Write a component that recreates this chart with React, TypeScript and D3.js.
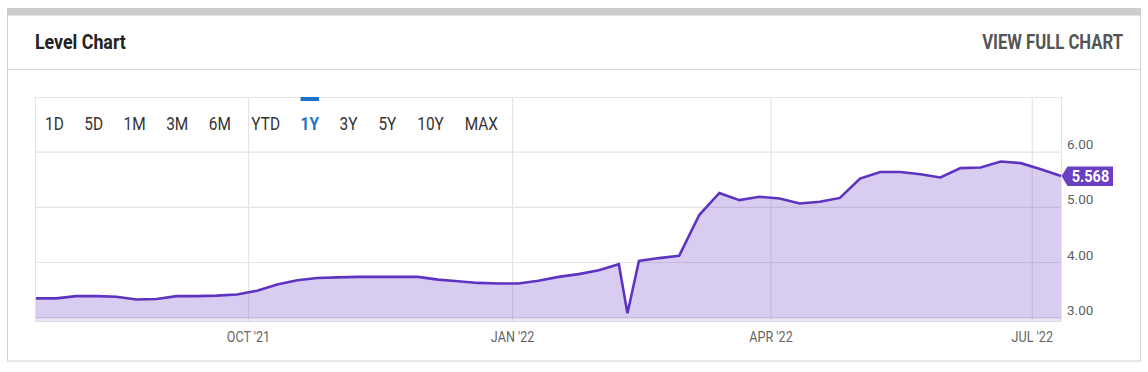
import React, { useRef, useEffect } from 'react'
import { scaleLinear, scaleTime, area, line, curveLinear, select } from 'd3'

// weekly levels, plus the one-day dip in february
const dates = [
  '2021-07-19', '2021-07-26', '2021-08-02', '2021-08-09', '2021-08-16', '2021-08-23',
  '2021-08-30', '2021-09-06', '2021-09-13', '2021-09-20', '2021-09-27', '2021-10-04',
  '2021-10-11', '2021-10-18', '2021-10-25', '2021-11-01', '2021-11-08', '2021-11-15',
  '2021-11-22', '2021-11-29', '2021-12-06', '2021-12-13', '2021-12-20', '2021-12-27',
  '2022-01-03', '2022-01-10', '2022-01-17', '2022-01-24', '2022-01-31', '2022-02-07',
  '2022-02-10', '2022-02-14', '2022-02-21', '2022-02-28', '2022-03-07', '2022-03-14',
  '2022-03-21', '2022-03-28', '2022-04-04', '2022-04-11', '2022-04-18', '2022-04-25',
  '2022-05-02', '2022-05-09', '2022-05-16', '2022-05-23', '2022-05-30', '2022-06-06',
  '2022-06-13', '2022-06-20', '2022-06-27', '2022-07-04', '2022-07-11',
]
const levels = [
  3.35, 3.35, 3.39, 3.39, 3.38, 3.33,
  3.34, 3.39, 3.39, 3.40, 3.42, 3.49,
  3.60, 3.68, 3.72, 3.73, 3.74, 3.74,
  3.74, 3.74, 3.69, 3.66, 3.63, 3.62,
  3.62, 3.67, 3.74, 3.79, 3.86, 3.97,
  3.08, 4.03, 4.08, 4.12, 4.86, 5.26,
  5.13, 5.19, 5.16, 5.07, 5.10, 5.17,
  5.52, 5.64, 5.64, 5.60, 5.54, 5.71,
  5.72, 5.83, 5.80, 5.69, 5.568,
]
const yTicks = [3, 4, 5, 6]
const xTickDates = ['2021-10-01', '2022-01-01', '2022-04-01', '2022-07-01']
const xTickLabels = ["OCT '21", "JAN '22", "APR '22", "JUL '22"]
const ranges = ['1D', '5D', '1M', '3M', '6M', 'YTD', '1Y', '3Y', '5Y', '10Y', 'MAX']
const activeRange = '1Y'

const purple = '#5f33c2'
const grid = '#e4e4e4'
const squeeze = 0.88

const App = () => {
  const btnRef = useRef<SVGGElement>(null)
  const barRef = useRef<SVGRectElement>(null)

  const left = 36, right = 1061, top = 98, bottom = 321
  const parse = (s: string) => new Date(s + 'T00:00:00')
  const data = dates.map((d, i) => ({ date: parse(d), v: levels[i] }))

  const x = scaleTime()
    .domain([parse(dates[0]), parse(dates[dates.length - 1])])
    .range([left, right])
  const y = scaleLinear().domain([3, 6]).range([317.7, 152.1])

  const areaPath = area<any>()
    .x(d => x(d.date))
    .y0(y(3) + 0.5)
    .y1(d => y(d.v))
    .curve(curveLinear)(data)
  const linePath = line<any>()
    .x(d => x(d.date))
    .y(d => y(d.v))(data)

  const last = data[data.length - 1]
  const tipY = y(last.v)

  // lay the range buttons out one after another
  useEffect(() => {
    let cx = 45
    select(btnRef.current)
      .selectAll<SVGTextElement, unknown>('text')
      .each(function () {
        const w = this.getBBox().width * squeeze
        this.setAttribute('transform', `translate(${cx},130) scale(${squeeze},1)`)
        if (this.textContent === activeRange && barRef.current) {
          barRef.current.setAttribute('x', String(cx))
          barRef.current.setAttribute('width', String(w))
        }
        cx += w + 20.5
      })
  }, [])

  return (
    <svg width={1148} height={372} style={{ position: 'absolute', left: 0, top: 0 }}
      fontFamily="Roboto, sans-serif">
      {/* card */}
      <rect x={7.5} y={8.5} width={1133} height={352.5} fill="#fff" stroke="#cfcfcf" />
      <rect x={7} y={8} width={1134} height={7.5} fill="#cccccc" />
      <line x1={7.5} x2={1140.5} y1={69.5} y2={69.5} stroke="#d8d8d8" />
      <text transform="translate(35,49) scale(0.89,1)" fontSize={20} fontWeight={700} fill="#222">Level Chart</text>
      <text transform="translate(1123,49) scale(0.835,1)" textAnchor="end" fontSize={20} fontWeight={700} fill="#555">VIEW FULL CHART</text>

      {/* grid */}
      <rect x={left - 0.5} y={top - 0.5} width={right - left + 1} height={bottom - top + 1}
        fill="none" stroke={grid} />
      {yTicks.map(t => (
        <line key={t} x1={left} x2={right} y1={y(t)} y2={y(t)} stroke={grid} strokeWidth={1.2} />
      ))}
      {xTickDates.map(d => (
        <line key={d} x1={x(parse(d))} x2={x(parse(d))} y1={top} y2={bottom} stroke={grid} strokeWidth={1.2} />
      ))}

      {/* series */}
      <path d={areaPath || ''} fill="#6a3fc4" fillOpacity={0.26} />
      <rect x={left} y={y(3) + 0.5} width={right - left} height={bottom - y(3)} fill="#6a3fc4" fillOpacity={0.13} />
      <path d={linePath || ''} fill="none" stroke={purple} strokeWidth={2.6} strokeLinejoin="miter" />

      {/* range buttons */}
      <g ref={btnRef} fontSize={17.5}>
        {ranges.map(r => (
          <text key={r} x={0} y={0}
            fill={r === activeRange ? '#1a73c7' : '#333'}
            fontWeight={r === activeRange ? 700 : 400}>{r}</text>
        ))}
      </g>
      <rect ref={barRef} x={301} y={97} width={18} height={4} fill="#1a73c7" />

      {/* y axis */}
      {yTicks.map(t => (
        <text key={t} x={1067} y={y(t) - 3} fontSize={13.5} fill="#5f5f5f">{t.toFixed(2)}</text>
      ))}

      {/* last value tag */}
      <path d={`M${right + 0.5},${tipY} L${right + 6.5},${tipY - 9.5} L1113,${tipY - 9.5} L1113,${tipY + 10} L${right + 6.5},${tipY + 10} Z`}
        fill="#6a3fc4" />
      <text transform={`translate(1090.5,${tipY + 6}) scale(0.88,1)`} textAnchor="middle"
        fontSize={16.5} fontWeight={700} fill="#fff">{last.v.toFixed(3)}</text>

      {/* x axis */}
      {xTickDates.map((d, i) => (
        <text key={d} transform={`translate(${x(parse(d))},342) scale(0.84,1)`} textAnchor="middle"
          fontSize={15} fill="#666">{xTickLabels[i]}</text>
      ))}
    </svg>
  )
}

export default App
